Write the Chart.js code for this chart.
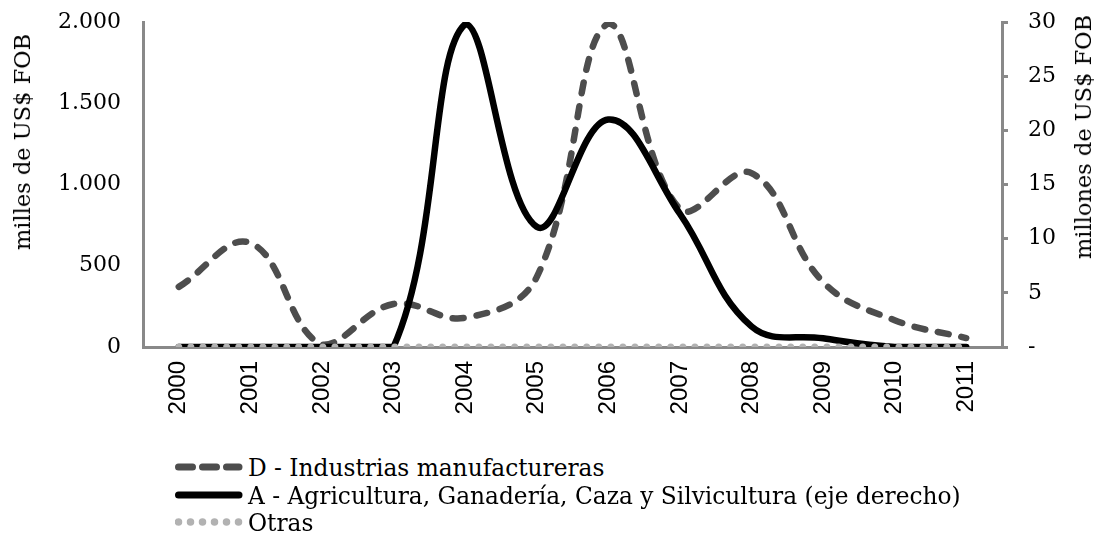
<!DOCTYPE html>
<html><head><meta charset="utf-8">
<script src="https://cdn.jsdelivr.net/npm/chart.js@4.4.0/dist/chart.umd.min.js"></script>
<style>
html,body{margin:0;padding:0;background:#fff;width:1104px;height:535px;overflow:hidden;position:relative}
#wrap{position:absolute;left:0;top:0;width:1104px;height:440px}
.ytitle{position:absolute;font-family:"DejaVu Serif";font-size:22.5px;color:#000;white-space:nowrap;transform:translate(-50%,-50%) rotate(-90deg);}
#legend{position:absolute;left:175px;top:452px;width:929px;height:83px;font-family:"DejaVu Serif";font-size:23.3px;color:#000}
.row{position:absolute;left:0;height:30px;display:flex;align-items:center;white-space:nowrap}
.row canvas{display:block}
</style></head>
<body>
<div id="wrap"><canvas id="c" width="1104" height="440"></canvas></div>
<div class="ytitle" style="left:22px;top:142px">milles de US$ FOB</div>
<div class="ytitle" style="left:1083px;top:137px">millones de US$ FOB</div>
<div id="legend"></div>
<script>
// ---- data ----
const years = ['2000','2001','2002','2003','2004','2005','2006','2007','2008','2009','2010','2011'];
const industrias = [370, 640, 15, 265, 180, 430, 1990, 850, 1070, 400, 165, 55];      // miles de US$ FOB (eje izq.)
const agricultura = [0, 0, 0, 0, 29.8, 11.1, 21, 12.3, 1.9, 0.8, 0, 0];              // millones de US$ FOB (eje der.)
const otras = [0, 0, 0, 0, 0, 0, 0, 0, 0, 0, 0, 0];
const seriesNames = ['D - Industrias manufactureras', 'A - Agricultura, Ganadería, Caza y Silvicultura (eje derecho)', 'Otras'];
const leftAxisMax = 2000, leftAxisStep = 500;
const rightAxisMax = 30, rightAxisStep = 5;

const axisColor = '#898989';
const fmtThousands = v => String(v).replace(/\B(?=(\d{3})+(?!\d))/g, '.');

const datasets = [
  {label: seriesNames[0], data: industrias, yAxisID: 'y', borderColor: '#4d4d4d', borderWidth: 6.5,
   borderDash: [11, 13], borderCapStyle: 'round', order: 3, legendDash: [14, 10]},
  {label: seriesNames[1], data: agricultura, yAxisID: 'y1', borderColor: '#000000', borderWidth: 6.5,
   borderDash: [], borderCapStyle: 'round', order: 2, legendDash: []},
  {label: seriesNames[2], data: otras, yAxisID: 'y', borderColor: '#b2b2b2', borderWidth: 7,
   borderDash: [0, 12], borderCapStyle: 'round', order: 1, legendDash: [0, 12]}
];
datasets.forEach(d => { d.pointRadius = 0; d.tension = 0.4; d.fill = false; d.borderJoinStyle = 'round'; });

const tickFont = {family: 'DejaVu Serif', size: 22};
const fixV = w => s => { s.width = w; s.paddingTop = 0; s.paddingBottom = 0; };

new Chart(document.getElementById('c'), {
  type: 'line',
  data: {labels: years, datasets: datasets},
  options: {
    responsive: false, animation: false, devicePixelRatio: 1,
    layout: {padding: {top: 22, left: 0, right: 0, bottom: 0}},
    plugins: {legend: {display: false}, tooltip: {enabled: false}},
    scales: {
      x: {
        type: 'category', offset: true,
        grid: {display: true, drawOnChartArea: false, drawTicks: false, color: 'rgba(0,0,0,0)'},
        border: {display: true, color: axisColor, width: 3},
        ticks: {minRotation: 90, maxRotation: 90, padding: 14, color: '#000',
                font: {family: 'Liberation Sans', size: 24}},
        afterFit: s => { s.height = 93; s.paddingLeft = 0; s.paddingRight = 0; }
      },
      y: {
        position: 'left', min: 0, max: leftAxisMax,
        grid: {display: true, drawOnChartArea: false, drawTicks: false, color: 'rgba(0,0,0,0)'},
        border: {display: true, color: axisColor, width: 3},
        ticks: {stepSize: leftAxisStep, padding: 22, color: '#000', font: tickFont,
                callback: v => fmtThousands(v)},
        afterFit: fixV(143)
      },
      y1: {
        position: 'right', min: 0, max: rightAxisMax,
        grid: {display: true, drawOnChartArea: false, drawTicks: true, tickLength: 6, color: axisColor, lineWidth: 3},
        border: {display: true, color: axisColor, width: 3},
        ticks: {stepSize: rightAxisStep, padding: 20, color: '#000', font: tickFont,
                callback: v => v === 0 ? '-' : String(v)},
        afterFit: fixV(102)
      }
    }
  }
});

// ---- HTML legend built from the datasets ----
const legend = document.getElementById('legend');
const rowCenters = [15, 43, 70];
datasets.forEach((d, i) => {
  const row = document.createElement('div');
  row.className = 'row';
  row.style.top = (rowCenters[i] - 15) + 'px';
  const cv = document.createElement('canvas');
  cv.width = 73; cv.height = 30;
  const ctx = cv.getContext('2d');
  ctx.strokeStyle = d.borderColor;
  ctx.lineWidth = d.borderWidth + 0.5;
  ctx.lineCap = 'round';
  ctx.setLineDash(d.legendDash);
  ctx.beginPath();
  ctx.moveTo(3.5, 15); ctx.lineTo(64, 15);
  ctx.stroke();
  row.appendChild(cv);
  const t = document.createElement('span');
  t.textContent = d.label;
  row.appendChild(t);
  legend.appendChild(row);
});
</script>
</body></html>
